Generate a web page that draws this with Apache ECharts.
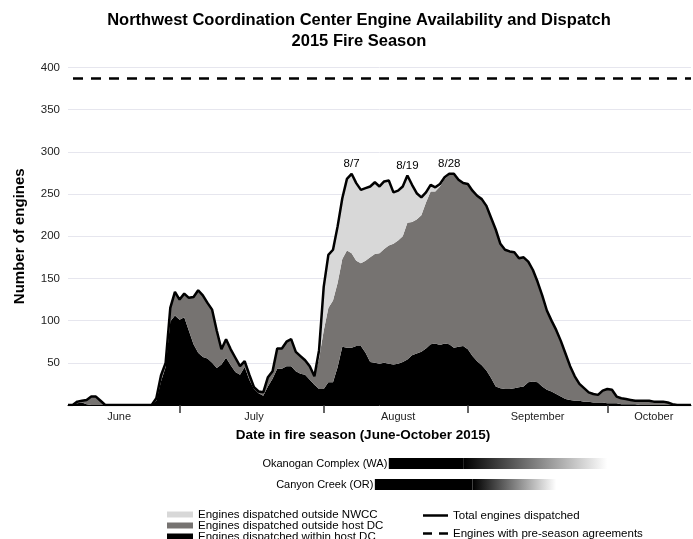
<!DOCTYPE html>
<html><head><meta charset="utf-8">
<script src="https://cdn.jsdelivr.net/npm/echarts@6/dist/echarts.min.js"></script>
<style>html,body{margin:0;padding:0;background:#fff}#c{width:693px;height:539px}</style>
</head><body><div id="c"></div>
<script>
const FONT = "'Liberation Sans', Arial, Helvetica, sans-serif";

// ---- categories: every day of the fire season shown (June 7 - Oct 19, 2015)
const dates = [];
for (let d = new Date(2015, 5, 7); d <= new Date(2015, 9, 19); d.setDate(d.getDate() + 1)) {
  dates.push((d.getMonth() + 1) + '/' + d.getDate());
}
const monthTickDates = ['7/1', '8/1', '9/1', '10/1'];
const monthLabels = { '6/18': 'June', '7/17': 'July', '8/17': 'August', '9/16': 'September', '10/11': 'October' };
const peakLabels = ['8/7', '8/19', '8/28'];

// ---- series values (engines), one per day
const totalDispatched = [
  0,0,4,5,6,10,10,5,0,0,
  0,0,0,0,0,0,0,0,0,8,
  35,50,115,134,125,132,127,128,136,130,
  121,113,88,66,78,66,56,46,52,36,
  21,16,15,33,40,67,67,75,78,63,
  58,53,46,34,65,140,178,184,212,245,
  268,274,263,255,257,259,264,259,265,266,
  252,254,259,272,261,251,246,252,261,258,
  262,270,274,274,267,263,262,254,248,244,
  236,222,208,191,184,182,181,174,175,170,
  160,146,130,112,100,89,76,61,46,34,
  25,20,15,13,12,17,19,18,10,8,
  7,6,5,5,5,5,4,4,4,3,
  1,0,0,0,0
];
const withinHostDC = [
  0,0,2,3,1,0,0,0,0,0,
  0,0,0,0,0,0,0,0,0,5,
  28,45,99,106,101,104,88,72,62,57,
  55,50,44,48,56,47,39,36,45,30,
  19,14,11,22,31,43,43,46,46,40,
  37,36,30,24,19,19,27,27,45,69,
  68,68,70,70,62,51,50,49,50,49,
  48,49,51,54,59,61,63,67,72,73,
  71,73,72,68,69,70,66,58,52,47,
  41,32,22,20,19,19,20,21,22,27,
  28,27,22,18,16,13,10,7,6,5,
  5,4,4,3,3,3,2,2,2,1,
  1,1,1,0,0,0,0,0,0,0,
  0,0,0,0,0
];
const outsideHostDC = [
  0,0,2,2,5,10,10,5,0,0,
  0,0,0,0,0,0,0,0,0,3,
  7,5,16,28,24,28,39,56,74,73,
  66,63,44,18,22,19,17,10,7,6,
  2,2,4,11,9,24,24,29,32,23,
  21,17,16,10,36,69,88,97,100,104,
  115,112,101,98,109,124,129,131,135,140,
  143,146,149,162,158,159,162,173,181,180,
  188,195,201,206,198,193,196,196,196,197,
  195,190,186,171,165,163,161,153,153,143,
  132,119,108,94,84,76,66,54,40,29,
  20,16,11,10,9,14,17,16,8,7,
  6,5,4,5,5,5,4,4,4,3,
  1,0,0,0,0
];
const outsideNWCC = [
  0,0,0,0,0,0,0,0,0,0,
  0,0,0,0,0,0,0,0,0,0,
  0,0,0,0,0,0,0,0,0,0,
  0,0,0,0,0,0,0,0,0,0,
  0,0,0,0,0,0,0,0,0,0,
  0,0,0,0,10,52,63,60,67,72,
  85,94,92,87,86,84,85,79,80,77,
  61,59,59,56,44,31,21,12,8,5,
  3,2,1,0,0,0,0,0,0,0,
  0,0,0,0,0,0,0,0,0,0,
  0,0,0,0,0,0,0,0,0,0,
  0,0,0,0,0,0,0,0,0,0,
  0,0,0,0,0,0,0,0,0,0,
  0,0,0,0,0
];
const preSeasonAgreements = 387;

// ---- large fires (date bars under the axis)
const fireNames = ['Okanogan Complex (WA)', 'Canyon Creek (OR)'];
const fireStart = ['8/15', '8/12'];
const fireFullUntil = ['8/31', '9/2'];
const fireFadeUntil = ['10/1', '9/20'];

// ---- names
const NAME_NWCC = 'Engines dispatched outside NWCC';
const NAME_HOST = 'Engines dispatched outside host DC';
const NAME_WITHIN = 'Engines dispatched within host DC';
const NAME_TOTAL = 'Total engines dispatched';
const NAME_PRE = 'Engines with pre-season agreements';

const totalData = totalDispatched.map((v, i) => peakLabels.includes(dates[i])
  ? { value: v, symbol: 'circle', symbolSize: 0.1, label: { show: true, formatter: dates[i] } } : v);

const fireData = fireNames.map((n, i) => [i, dates.indexOf(fireStart[i]), dates.indexOf(fireFullUntil[i]), dates.indexOf(fireFadeUntil[i])]);

const chart = echarts.init(document.getElementById('c'), null, { renderer: 'canvas' });
const areaSeries = (name, data, color) => ({
  name, type: 'line', stack: 'engines', data, symbol: 'none', smooth: false,
  itemStyle: { color }, lineStyle: { width: 0, color }, areaStyle: { color, opacity: 1 },
  emphasis: { disabled: true }, z: 2, xAxisIndex: 0, yAxisIndex: 0
});
const legendText = { fontFamily: FONT, fontSize: 11.5, color: '#000', lineHeight: 11 };
const rowLegend = (name, left, top, icon, w, h) => ({
  data: [{ name, icon }], orient: 'horizontal', left, top, padding: 0, itemGap: 0,
  itemWidth: w, itemHeight: h, selectedMode: false, textStyle: legendText
});

chart.setOption({
  animation: false,
  textStyle: { fontFamily: FONT },
  title: {
    text: 'Northwest Coordination Center Engine Availability and Dispatch\n2015 Fire Season',
    left: 359, top: 10, textAlign: 'center', padding: 0,
    textStyle: { fontFamily: FONT, fontSize: 16.5, fontWeight: 'bold', color: '#000', lineHeight: 21 }
  },
  grid: [
    { left: 68, right: 2, top: 67.5, bottom: 134 },
    { left: 68, right: 2, top: 453, height: 42 }
  ],
  xAxis: [
    {
      type: 'category', data: dates, boundaryGap: false, gridIndex: 0,
      axisLine: { show: true, lineStyle: { color: '#000', width: 1 } },
      axisTick: { show: true, interval: (i, v) => monthTickDates.includes(v), length: 8, lineStyle: { color: '#333', width: 1.5 } },
      axisLabel: { interval: (i, v) => monthLabels[v] !== undefined, formatter: v => monthLabels[v] || '', color: '#222', fontSize: 11, margin: 6 },
      splitLine: { show: false },
      name: 'Date in fire season (June-October 2015)', nameLocation: 'middle', nameGap: 23,
      nameTextStyle: { fontFamily: FONT, fontSize: 13.5, fontWeight: 'bold', color: '#000', padding: [0, 33, 0, 0] }
    },
    { type: 'value', gridIndex: 1, min: 0, max: dates.length - 1, show: false }
  ],
  yAxis: [
    {
      type: 'value', gridIndex: 0, min: 0, max: 400, interval: 50,
      axisLine: { show: false }, axisTick: { show: false },
      axisLabel: { formatter: v => v === 0 ? '' : String(v), color: '#222', fontSize: 11.5, margin: 8 },
      splitLine: { show: true, lineStyle: { color: '#e6e6ee', width: 1 } },
      name: 'Number of engines', nameLocation: 'middle', nameGap: 41, nameRotate: 90,
      nameTextStyle: { fontFamily: FONT, fontSize: 15, fontWeight: 'bold', color: '#000' }
    },
    { type: 'category', gridIndex: 1, data: fireNames, inverse: true, show: false }
  ],
  legend: [
    rowLegend(NAME_NWCC, 167, 508.5, 'rect', 26, 6),
    rowLegend(NAME_HOST, 167, 519.5, 'rect', 26, 6),
    rowLegend(NAME_WITHIN, 167, 530.5, 'rect', 26, 6),
    rowLegend(NAME_TOTAL, 423, 509.5, 'rect', 25, 2.5),
    rowLegend(NAME_PRE, 423, 527.5, 'path://M0,0H9V2.5H0ZM16,0H25V2.5H16Z', 25, 2.5)
  ],
  series: [
    areaSeries(NAME_WITHIN, withinHostDC, '#000000'),
    areaSeries(NAME_HOST, outsideHostDC, '#767371'),
    areaSeries(NAME_NWCC, outsideNWCC, '#d8d8d8'),
    {
      name: NAME_TOTAL, type: 'line', data: totalData, symbol: 'none', showSymbol: true, showAllSymbol: true, smooth: false,
      itemStyle: { color: '#000' }, lineStyle: { color: '#000', width: 2.5 }, z: 5,
      label: { show: false, position: 'top', distance: 4, color: '#000', fontSize: 11.5, fontFamily: FONT },
      labelLayout: { hideOverlap: false },
      emphasis: { disabled: true }
    },
    {
      name: NAME_PRE, type: 'line', data: [], symbol: 'none',
      itemStyle: { color: '#000' }, lineStyle: { color: '#000', width: 2.5, type: [10, 8] },
      markLine: {
        silent: true, symbol: 'none', label: { show: false },
        lineStyle: { color: '#000', width: 2.5, type: [10, 8], dashOffset: -5 },
        data: [{ yAxis: preSeasonAgreements }]
      }
    },
    {
      name: 'Large fires', type: 'custom', xAxisIndex: 1, yAxisIndex: 1, data: fireData,
      encode: { x: [1, 2, 3], y: 0 }, silent: true,
      renderItem: (params, api) => {
        const row = api.value(0);
        const p0 = api.coord([api.value(1), row]);
        const p1 = api.coord([api.value(2), row]);
        const p2 = api.coord([api.value(3), row]);
        const h = 11;
        return {
          type: 'group', children: [
            { type: 'rect', shape: { x: p0[0], y: p0[1] - h / 2, width: p1[0] - p0[0], height: h }, style: { fill: '#000' } },
            { type: 'rect', shape: { x: p1[0], y: p0[1] - h / 2, width: p2[0] - p1[0], height: h },
              style: { fill: new echarts.graphic.LinearGradient(0, 0, 1, 0, [{ offset: 0, color: '#000' }, { offset: 1, color: '#fff' }]) } },
            { type: 'text', style: { text: fireNames[row], x: p0[0] - 1.5, y: p0[1], align: 'right', verticalAlign: 'middle',
              fontSize: 11, fontFamily: FONT, fill: '#000' } }
          ]
        };
      }
    }
  ]
});
</script></body></html>
